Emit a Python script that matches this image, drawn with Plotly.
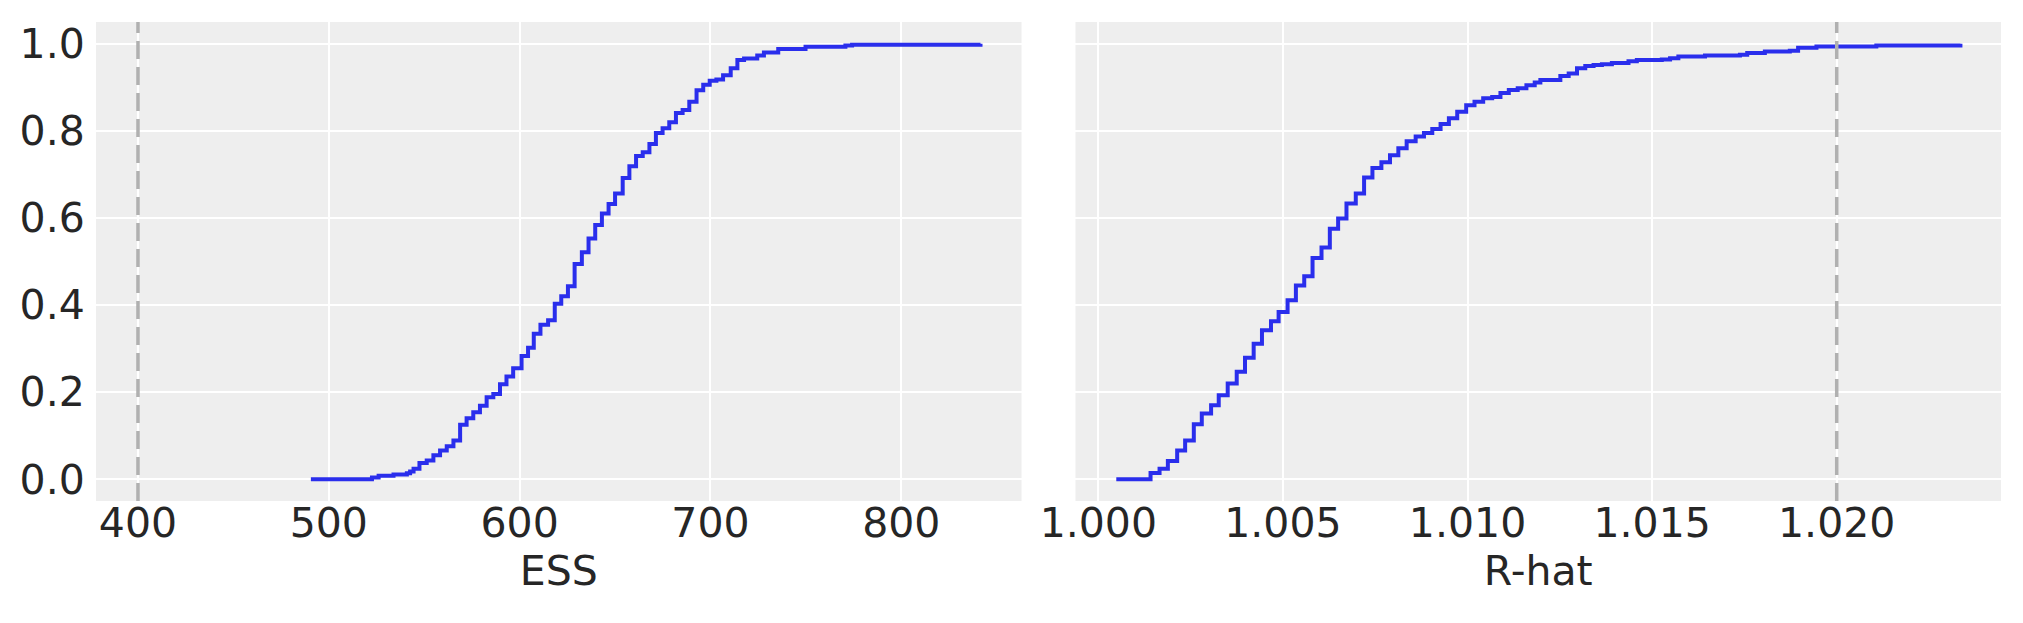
import plotly.graph_objects as go
from plotly.subplots import make_subplots

# ESS ECDF (step positions and cumulative heights)
ess_x = [490.6, 522.6, 526.1, 533.9, 540.9, 542.6, 544.4, 547.5, 551.3, 554.8,
         558.3, 561.8, 565.3, 568.8, 572.2, 575.7, 579.2, 582.7, 586.2, 589.7,
         593.1, 596.6, 601.0, 604.4, 607.4, 610.9, 614.9, 618.4, 621.8, 625.3,
         628.8, 632.6, 636.1, 639.6, 643.1, 646.6, 650.0, 654.0, 657.5, 661.0,
         664.5, 668.0, 671.4, 674.9, 678.4, 681.9, 685.4, 688.9, 692.7, 696.2,
         699.6, 703.1, 706.6, 710.6, 714.1, 717.6, 724.5, 728.0, 735.5, 749.8,
         770.7, 774.2, 841.5]
ess_y = [0.000, 0.004, 0.008, 0.011, 0.014, 0.018, 0.024, 0.037, 0.043, 0.055,
         0.066, 0.076, 0.089, 0.125, 0.140, 0.154, 0.169, 0.188, 0.196, 0.218,
         0.236, 0.255, 0.283, 0.302, 0.334, 0.355, 0.365, 0.403, 0.420, 0.443,
         0.494, 0.521, 0.553, 0.584, 0.610, 0.632, 0.656, 0.692, 0.719, 0.742,
         0.751, 0.770, 0.795, 0.806, 0.820, 0.841, 0.848, 0.867, 0.893, 0.906,
         0.915, 0.918, 0.928, 0.944, 0.963, 0.966, 0.973, 0.980, 0.988, 0.993,
         0.996, 0.998, 1.000]

# R-hat ECDF
rhat_x = [1.000486, 1.001414, 1.001658, 1.001883, 1.002135, 1.002351, 1.002586,
          1.002802, 1.003054, 1.003261, 1.003504, 1.003748, 1.003973, 1.004207,
          1.004432, 1.004676, 1.004883, 1.005126, 1.005351, 1.005577, 1.005802,
          1.006045, 1.006270, 1.006495, 1.006721, 1.006973, 1.007198, 1.007424,
          1.007667, 1.007900, 1.008126, 1.008351, 1.008595, 1.008820, 1.009045,
          1.009270, 1.009495, 1.009721, 1.009964, 1.010189, 1.010424, 1.010668,
          1.010892, 1.011118, 1.011359, 1.011595, 1.011820, 1.011973, 1.012514,
          1.012740, 1.012965, 1.013189, 1.013414, 1.013640, 1.013910, 1.014360,
          1.014586, 1.015262, 1.015486, 1.015711, 1.016432, 1.017378, 1.017576,
          1.018054, 1.018730, 1.018954, 1.019451, 1.021073, 1.023351]
rhat_y = [0.000, 0.0145, 0.024, 0.042, 0.066, 0.089, 0.126,
          0.151, 0.170, 0.193, 0.220, 0.247, 0.279, 0.311,
          0.342, 0.363, 0.384, 0.411, 0.445, 0.466, 0.508,
          0.532, 0.575, 0.599, 0.633, 0.656, 0.693, 0.715,
          0.728, 0.744, 0.760, 0.776, 0.787, 0.795, 0.804,
          0.816, 0.829, 0.844, 0.859, 0.867, 0.875, 0.878,
          0.887, 0.894, 0.898, 0.905, 0.911, 0.917, 0.926,
          0.932, 0.944, 0.949, 0.951, 0.953, 0.956, 0.960,
          0.963, 0.964, 0.967, 0.971, 0.973, 0.975, 0.979,
          0.982, 0.984, 0.991, 0.994, 0.996, 1.000]

ess_ref = 400
rhat_ref = 1.02

y_ticks = [0.0, 0.2, 0.4, 0.6, 0.8, 1.0]
ess_ticks = [400, 500, 600, 700, 800]
rhat_ticks = [1.000, 1.005, 1.010, 1.015, 1.020]

LINE = "#2a2eec"
BG = "#eeeeee"
TXT = "#262626"
FONT = "DejaVu Sans"

fig = make_subplots(rows=1, cols=2, shared_yaxes=True, horizontal_spacing=0.0283)

fig.add_trace(go.Scatter(x=ess_x, y=ess_y, mode="lines", line_shape="hv",
                         line=dict(color=LINE, width=4), showlegend=False), row=1, col=1)
fig.add_trace(go.Scatter(x=rhat_x, y=rhat_y, mode="lines", line_shape="hv",
                         line=dict(color=LINE, width=4), showlegend=False), row=1, col=2)

fig.add_vline(x=ess_ref, line=dict(color="#b0b0b0", width=3.5, dash="18px,8px"),
              layer="above", row=1, col=1)
fig.add_vline(x=rhat_ref, line=dict(color="#b0b0b0", width=3.5, dash="18px,8px"),
              layer="above", row=1, col=2)

axis_common = dict(showgrid=True, gridcolor="white", gridwidth=2, zeroline=False,
                   showline=False, tickfont=dict(family=FONT, size=41, color=TXT))

fig.update_xaxes(**axis_common, ticks="", ticklen=0, ticklabelstandoff=-6)
fig.update_yaxes(**axis_common, ticks="outside", ticklen=2, tickcolor="rgba(0,0,0,0)")

fig.update_xaxes(range=[378, 863], tickvals=ess_ticks, ticktext=[str(t) for t in ess_ticks],
                 title=dict(text="ESS", font=dict(family=FONT, size=41, color=TXT), standoff=5),
                 row=1, col=1)
fig.update_xaxes(range=[0.99938, 1.02445], tickvals=rhat_ticks,
                 ticktext=[f"{t:.3f}" for t in rhat_ticks],
                 title=dict(text="R-hat", font=dict(family=FONT, size=41, color=TXT), standoff=5),
                 row=1, col=2)
fig.update_yaxes(range=[-0.05, 1.05], tickvals=y_ticks,
                 ticktext=[f"{t:.1f}" for t in y_ticks], row=1, col=1)
fig.update_yaxes(range=[-0.05, 1.05], tickvals=y_ticks, showticklabels=False, row=1, col=2)

# page body has an 8px default margin, so the figure is sized to fit the window
fig.update_layout(width=2015, height=615, paper_bgcolor="white", plot_bgcolor=BG,
                  margin=dict(l=84, r=22, t=12, b=122),
                  font=dict(family=FONT, color=TXT))

fig.write_html("out.html")
